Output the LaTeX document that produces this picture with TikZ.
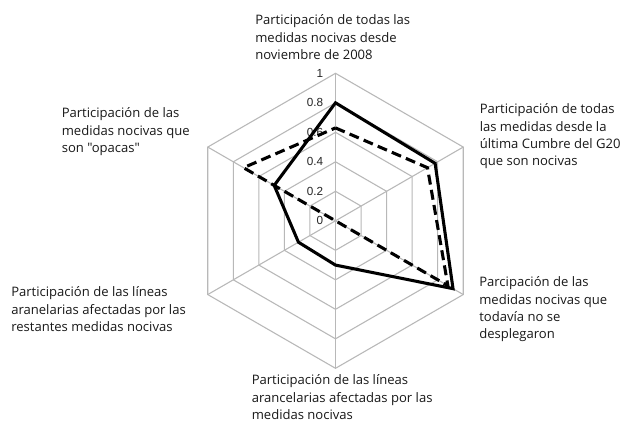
\documentclass[tikz,border=0pt]{standalone}
\usepackage{fontspec}
\setmainfont{Open Sans}
\newfontfamily\lblfont{Open Sans}
\newfontfamily\tickfont{Liberation Sans}
\begin{document}
\begin{tikzpicture}[x=0.75pt,y=0.75pt,
  gridline/.style={draw=black!28,line width=0.8pt},
  lbl/.style={anchor=north west,align=left,inner sep=0pt,font=\lblfont\fontsize{9.8}{12.9}\selectfont,text=black!90},
  tick/.style={anchor=east,inner sep=0pt,font=\tickfont\fontsize{8.8}{10}\selectfont,text=black!85},
  solidser/.style={draw=black,line width=2.3pt,line join=miter},
  dashser/.style={draw=black,line width=2.3pt,dash pattern=on 7.5pt off 4pt,line join=miter}]
\useasboundingbox (0,0) rectangle (623,-421);
\fill[white] (0,0) rectangle (623,-421);
\begin{scope}[shift={(335.5,-220.8)}]
  % grid
  \foreach \k in {1,...,5}{
    \pgfmathsetmacro{\rr}{\k*29.5}
    \draw[gridline] (90:\rr) -- (30:\rr) -- (-30:\rr) -- (-90:\rr) -- (-150:\rr) -- (150:\rr) -- cycle;
  }
  \foreach \a in {90,30,-30,-90,-150,150}
    \draw[gridline] (0,0) -- (\a:147.5);
  % tick labels
  \node[tick] (t0) at (-12,0) {0};
  \node[tick] (t1) at (-12,29.5) {0.2};
  \node[tick] (t2) at (-12,59) {0.4};
  \node[tick] (t3) at (-12,88.5) {0.6};
  \node[tick] (t4) at (-12,118) {0.8};
  \node[tick] (t5) at (-12,147.5) {1};
  % series
  \draw[dashser] (90:92.9) -- (30:106.2) -- (-30:129.8) -- (0,0) -- (150:106.2) -- cycle;
  \draw[solidser] (90:118) -- (30:115) -- (-30:135.7) -- (-90:44.3) -- (-150:42.8) -- (150:70.8) -- cycle;
\end{scope}
% axis labels
\node[lbl] (lt) at (255,-14.6) {Participación de todas las\\medidas nocivas desde\\noviembre de 2008};
\node[lbl] (lur) at (479.5,-103.6) {Participación de todas\\las medidas desde la\\última Cumbre del G20\\que son nocivas};
\node[lbl] (llr) at (479,-276.6) {Parcipación de las\\medidas nocivas que\\todavía no se\\desplegaron};
\node[lbl] (lb) at (251.5,-374.6) {Participación de las líneas\\arancelarias afectadas por las\\medidas nocivas};
\node[lbl] (lll) at (11,-286.6) {Participación de las líneas\\aranelarias afectadas por las\\restantes medidas nocivas};
\node[lbl] (lul) at (61.5,-107.6) {Participación de las\\medidas nocivas que\\son "opacas"};
\end{tikzpicture}
\end{document}
